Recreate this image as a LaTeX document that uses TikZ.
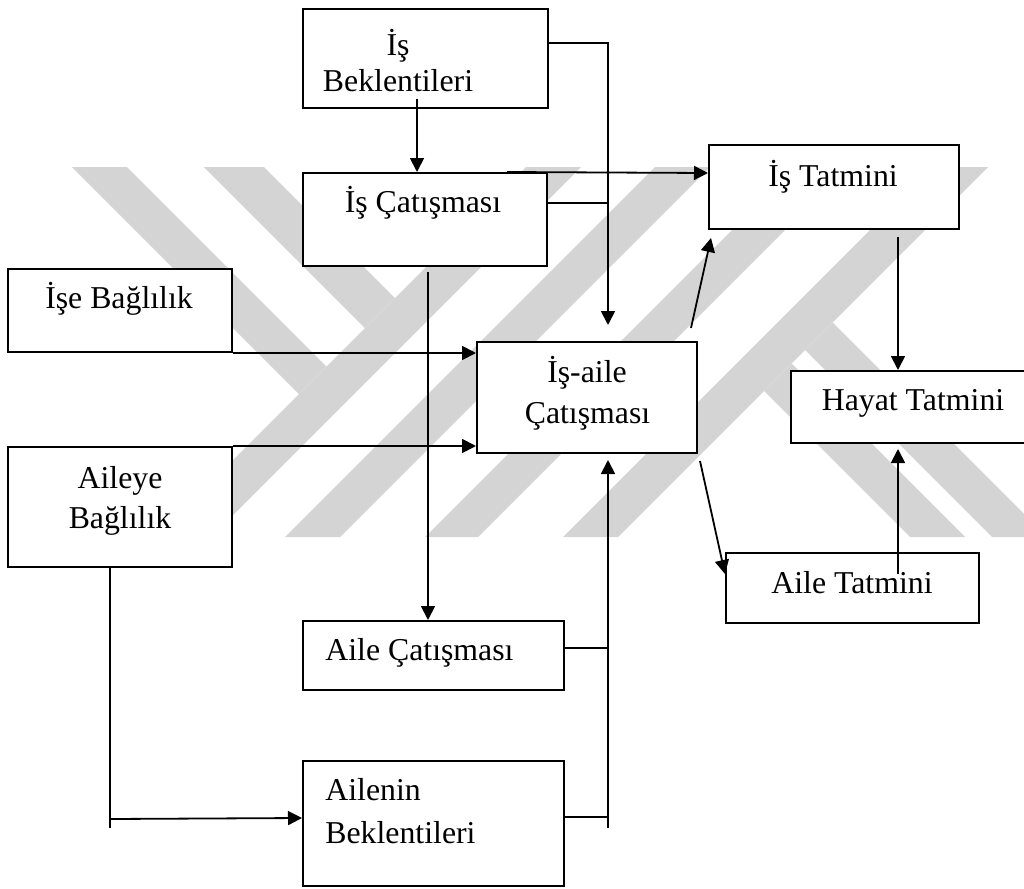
\documentclass[tikz,border=0pt]{standalone}
\usepackage{fontspec}
\setmainfont{Liberation Serif}
\usetikzlibrary{arrows.meta,calc}
\definecolor{wmgray}{RGB}{212,212,212}

\begin{document}
\begin{tikzpicture}[x=0.5pt,y=-0.5pt,
    box/.style={draw,line width=1pt,fill=white,rectangle,inner sep=0pt},
    txt/.style={inner sep=0pt,anchor=base,font=\fontsize{15.9pt}{19pt}\selectfont},
    arr/.style={-{Triangle[length=7pt,width=7pt]},line width=0.9pt},
    ln/.style={line width=0.9pt},
    wm/.style={fill=wmgray}]
    \useasboundingbox (0,0) rectangle (1024,889);
    \clip (0,0) rectangle (1024,889);
    % watermark
    \fill[wm] (72,167) -- (127,167) -- (326.5,366.5) -- (299,394) -- cycle;
    \fill[wm] (204,167) -- (264,167) -- (395,298) -- (365,328) -- cycle;
    \fill[wm] (526,167) -- (581,167) -- (211,537) -- (156,537) -- cycle;
    \fill[wm] (655,167) -- (710,167) -- (340,537) -- (285,537) -- cycle;
    \fill[wm] (795,167) -- (848,167) -- (478,537) -- (425,537) -- cycle;
    \fill[wm] (933,167) -- (988,167) -- (618,537) -- (563,537) -- cycle;
    \fill[wm] (764,391) -- (791.5,363.5) -- (965,537) -- (910,537) -- cycle;
    \fill[wm] (805,350) -- (832.5,322.5) -- (1047,537) -- (992,537) -- cycle;

    \node[box,minimum width=122.5pt,minimum height=49.5pt] (is_bek)   at (425.5,58.5)  {};
    \node[box,minimum width=122pt,minimum height=46.5pt]   (is_cat)   at (425,219.5)   {};
    \node[box,minimum width=112pt,minimum height=41.5pt]   (ise_bag)  at (120,310.5)   {};
    \node[box,minimum width=112pt,minimum height=60pt]     (aile_bag) at (120,507)     {};
    \node[box,minimum width=110pt,minimum height=55.5pt]   (is_aile)  at (587,397.5)   {};
    \node[box,minimum width=125pt,minimum height=42pt]     (is_tat)   at (834,187)     {};
    \node[box,minimum width=119.5pt,minimum height=36pt]   (hayat)    at (910.5,407)   {};
    \node[box,minimum width=126.5pt,minimum height=35pt]   (aile_tat) at (852.5,588)   {};
    \node[box,minimum width=130.5pt,minimum height=34.5pt] (aile_cat) at (433.5,655.5) {};
    \node[box,minimum width=130.5pt,minimum height=62.5pt] (aile_bek) at (433.5,823.5) {};

    \node[txt] (is_bek_a)   at (398,55)   {İş};
    \node[txt] (is_bek_b)   at (398,91)   {Beklentileri};
    \node[txt] (is_cat_a)   at (423,212)  {İş Çatışması};
    \node[txt] (ise_bag_a)  at (119,308)  {İşe Bağlılık};
    \node[txt] (aile_bag_a) at (120,488)  {Aileye};
    \node[txt] (aile_bag_b) at (120,528)  {Bağlılık};
    \node[txt] (is_aile_a)  at (587,382)  {İş-aile};
    \node[txt] (is_aile_b)  at (587.5,423) {Çatışması};
    \node[txt] (is_tat_a)   at (833,186)  {İş Tatmini};
    \node[txt] (hayat_a)    at (913,410)  {Hayat Tatmini};
    \node[txt] (aile_tat_a) at (852,593)  {Aile Tatmini};
    \node[txt,anchor=base west] (aile_cat_a) at (325,660) {Aile Çatışması};
    \node[txt,anchor=base west] (aile_bek_a) at (325,800) {Ailenin};
    \node[txt,anchor=base west] (aile_bek_b) at (325,843) {Beklentileri};

    % work side
    \draw[arr] ($(is_bek.east)+(0,-15.5)$) -| ($(is_aile.north)+(21,-16)$);
    \draw[ln] ($(is_cat.east)+(0,-16.5)$) -- ++(61,0);
    \path[arr]
    ($(is_bek.south)+(-8.5,-10)$) edge ($(is_cat.north)+(-8,0)$)
    ($(is_cat.north)+(82,0)$) edge ($(is_tat.west)+(0,-14)$)
    ($(is_cat.south)+(3,5)$) edge ($(aile_cat.north)+(-5.5,0)$)
    (ise_bag.south east) edge (ise_bag.south east -| is_aile.west)
    (aile_bag.north east) edge (aile_bag.north east -| is_aile.west);
    % family side
    \draw[ln] ($(aile_bag.south)+(-10,0)$) -- ++(0,260);
    \draw[arr] ($(aile_bag.south)+(-10,251)$) -- ($(aile_bek.west)+(0,-5.5)$);
    \draw[ln] ($(aile_cat.east)+(0,-7.5)$) -- ++(44,0);
    \draw[ln] ($(aile_bek.east)+(0,-6.5)$) -- ++(44,0);
    \draw[arr] ($(is_aile.south)+(21,374)$) -- ($(is_aile.south)+(21,6)$);
    % satisfaction
    \path[arr]
    ($(is_aile.north east)+(-7,-13)$) edge ($(is_tat.south west)+(3,8)$)
    ($(is_aile.south east)+(2,7)$) edge ($(aile_tat.north west)+(0,22)$)
    ($(is_tat.south west)+(190,7)$) edge ($(hayat.north west)+(108,0)$)
    ($(aile_tat.north west)+(173,22)$) edge ($(hayat.south west)+(108,5)$);
\end{tikzpicture}
\end{document}
